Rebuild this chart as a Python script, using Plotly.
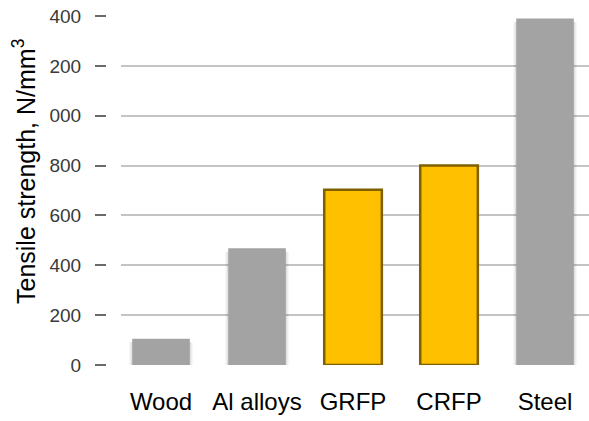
import plotly.graph_objects as go

# Materials and their tensile strength (N/mm^3)
materials = ["Wood", "Al alloys", "GRFP", "CRFP", "Steel"]
strength = [105, 468, 703, 800, 1390]
is_composite = [False, False, True, True, False]

# Y tick values and the labels printed beside them
y_ticks = [0, 200, 400, 600, 800, 1000, 1200, 1400]
y_tick_labels = ["0", "200", "400", "600", "800", "000", "200", "400"]

W, H = 589, 421
GRAY = "#a3a3a3"
GOLD = "#FFC000"
GOLD_EDGE = "#7F6000"

fill_colors = [GOLD if c else GRAY for c in is_composite]
line_colors = [GOLD_EDGE if c else "rgba(0,0,0,0)" for c in is_composite]
line_widths = [2.5 if c else 0 for c in is_composite]

fig = go.Figure()

# soft drop shadow under the plain (grey) bars
for w, a in [(0.66, 0.05), (0.63, 0.07)]:
    fig.add_trace(go.Bar(
        x=list(range(len(materials))),
        y=[v if not c else 0 for v, c in zip(strength, is_composite)],
        base=-14,
        width=w,
        marker=dict(color=f"rgba(0,0,0,{a})", line=dict(width=0)),
        hoverinfo="skip",
        showlegend=False,
    ))

fig.add_trace(go.Bar(
    x=list(range(len(materials))),
    y=strength,
    width=0.6,
    marker=dict(color=fill_colors, line=dict(color=line_colors, width=line_widths)),
    showlegend=False,
))

fig.update_layout(
    width=W, height=H,
    margin=dict(l=0, r=0, t=0, b=0),
    paper_bgcolor="white",
    plot_bgcolor="white",
    barmode="overlay",
    font=dict(family="Liberation Sans, Arial, sans-serif", color="#000000"),
    xaxis=dict(
        domain=[121 / W, 1],
        range=[-0.417, 4.458],
        tickmode="array",
        tickvals=list(range(len(materials))),
        ticktext=materials,
        tickfont=dict(size=24, color="#000000"),
        showgrid=False,
        zeroline=False,
        showline=False,
        ticks="",
        ticklabelstandoff=20,
        automargin=False,
    ),
    yaxis=dict(
        domain=[(H - 365) / H, (H - 16) / H],
        range=[0, 1400],
        anchor="free",
        position=106 / W,
        tickmode="array",
        tickvals=y_ticks,
        ticktext=y_tick_labels,
        tickfont=dict(size=19, color="#3a3a3a"),
        ticks="outside",
        ticklen=11,
        tickwidth=2,
        tickcolor="#6a6a6a",
        ticklabelstandoff=10,
        showgrid=True,
        gridcolor="#c4c4c4",
        gridwidth=2,
        zeroline=False,
        showline=False,
        automargin=False,
    ),
    annotations=[dict(
        text="Tensile strength, N/mm<sup>3</sup>",
        textangle=-90,
        xref="paper", yref="paper",
        x=24 / W, y=(H - 172) / H,
        xanchor="center", yanchor="middle",
        showarrow=False,
        font=dict(size=25, color="#000000"),
    )],
)

fig.write_html("out.html")
